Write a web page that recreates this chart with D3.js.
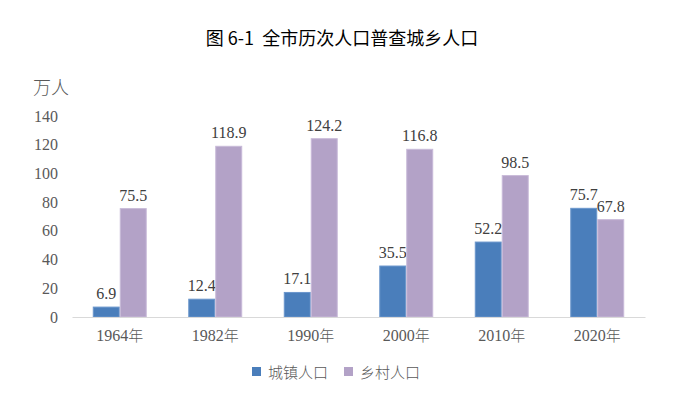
<!DOCTYPE html>
<html>
<head>
<meta charset="utf-8">
<script src="https://cdn.jsdelivr.net/npm/d3@7"></script>
<style>
body { margin: 0; background: #fff; }
</style>
</head>
<body>
<div id="chart"></div>
<script>
var years = ["1964年", "1982年", "1990年", "2000年", "2010年", "2020年"]
var urban = [6.9, 12.4, 17.1, 35.5, 52.2, 75.7]
var rural = [75.5, 118.9, 124.2, 116.8, 98.5, 67.8]
var seriesNames = ["城镇人口", "乡村人口"]
var yTicks = [0, 20, 40, 60, 80, 100, 120, 140]

var colors = ["#4a7ebb", "#b3a2c7"]
var strokes = ["#6b96cc", "#c8bad8"]

var svgWidth = 677
var svgHeight = 401
var margin = { top: 116, right: 32, bottom: 84, left: 72 }
var chartWidth = svgWidth - margin.left - margin.right
var chartHeight = svgHeight - margin.top - margin.bottom

var svg = d3.select("#chart")
    .append("svg")
    .attr("width", svgWidth)
    .attr("height", svgHeight)

var serif = "'Liberation Serif', 'Times New Roman', serif"
var cjk = "'Noto Sans CJK SC', sans-serif"

svg.append("text")
    .attr("x", 342)
    .attr("y", 45)
    .attr("text-anchor", "middle")
    .attr("font-family", cjk)
    .attr("font-size", "18px")
    .attr("fill", "#000")
    .style("white-space", "pre")
    .text("图 6-1  全市历次人口普查城乡人口")

svg.append("text")
    .attr("x", 33)
    .attr("y", 94)
    .attr("font-family", cjk)
    .attr("font-size", "18px")
    .attr("font-weight", 300)
    .attr("fill", "#595959")
    .text("万人")

var chartGroup = svg.append("g")
    .attr("transform", `translate(${margin.left},${margin.top})`)

var x0 = d3.scaleBand()
    .domain(years)
    .range([0, chartWidth])
    .paddingInner(0.435)
    .paddingOuter(0.2175)

var x1 = d3.scaleBand()
    .domain([0, 1])
    .range([0, x0.bandwidth()])

var y = d3.scaleLinear()
    .domain([0, 140])
    .range([chartHeight, 0])

// y axis labels only
var leftAxis = d3.axisLeft(y).tickValues(yTicks).tickSize(0).tickPadding(14)
var yAxis = chartGroup.append("g").call(leftAxis)
yAxis.select(".domain").remove()
yAxis.selectAll("text")
    .attr("font-family", serif)
    .attr("font-size", "16px")
    .attr("fill", "#595959")

var groups = chartGroup.selectAll(".grp")
    .data(years)
    .enter()
    .append("g")
    .attr("transform", d => `translate(${x0(d)},0)`)

var allSeries = [urban, rural]
allSeries.forEach(function (vals, s) {
    groups.append("rect")
        .attr("x", x1(s) + 0.5)
        .attr("y", (d, i) => y(vals[i]))
        .attr("width", x1.bandwidth() - 1)
        .attr("height", (d, i) => chartHeight - y(vals[i]))
        .attr("fill", colors[s])
        .attr("stroke", strokes[s])
        .attr("stroke-width", 1)
    groups.append("text")
        .attr("x", x1(s) + x1.bandwidth() / 2)
        .attr("y", (d, i) => y(vals[i]) - 8)
        .attr("text-anchor", "middle")
        .attr("font-family", serif)
        .attr("font-size", "16px")
        .attr("fill", "#404040")
        .text((d, i) => vals[i].toFixed(1))
})

// x axis
var bottomAxis = d3.axisBottom(x0).tickSize(0).tickPadding(13)
var xAxis = chartGroup.append("g")
    .attr("transform", `translate(0,${chartHeight})`)
    .call(bottomAxis)
xAxis.select(".domain").attr("stroke", "#d9d9d9").attr("stroke-width", 1)
xAxis.selectAll("text")
    .attr("font-family", serif)
    .attr("font-size", "16px")
    .attr("fill", "#595959")
    .each(function (d) {
        var t = d3.select(this)
        t.text(null)
        t.append("tspan").text(d.replace("年", ""))
        t.append("tspan").attr("font-family", cjk).attr("font-weight", 300).attr("font-size", "15px").text("年")
    })

// legend
var legend = svg.append("g").attr("transform", "translate(252,372)")
var legendX = [0, 92]
seriesNames.forEach(function (name, s) {
    legend.append("rect")
        .attr("x", legendX[s])
        .attr("y", -5)
        .attr("width", 9)
        .attr("height", 9)
        .attr("fill", colors[s])
    legend.append("text")
        .attr("x", legendX[s] + 16)
        .attr("y", 6)
        .attr("font-family", cjk)
        .attr("font-size", "15px")
        .attr("font-weight", 300)
        .attr("fill", "#595959")
        .text(name)
})
</script>
</body>
</html>
